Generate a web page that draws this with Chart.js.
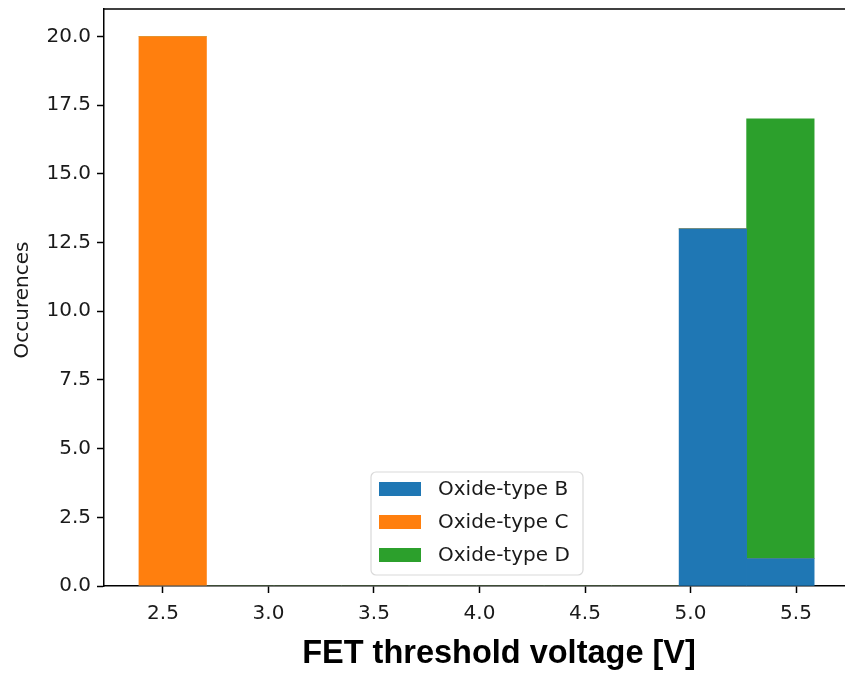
<!DOCTYPE html>
<html>
<head>
<meta charset="utf-8">
<script src="https://cdn.jsdelivr.net/npm/chart.js@4"></script>
<style>
  html, body { margin: 0; padding: 0; background: #fff; overflow: hidden; }
  canvas { display: block; }
</style>
</head>
<body>
<canvas id="histChart" width="845" height="673"></canvas>
<script>
// histogram bins (V) and counts per oxide type
const binEdges = [2.386, 2.706, 3.026, 3.346, 3.666, 3.986, 4.306, 4.626, 4.946, 5.266, 5.586];
const countsB = [0, 0, 0, 0, 0, 0, 0, 0, 13, 1];
const countsC = [20, 0, 0, 0, 0, 0, 0, 0, 0, 0];
const countsD = [0, 0, 0, 0, 0, 0, 0, 0, 0, 16];
const seriesNames = ["Oxide-type B", "Oxide-type C", "Oxide-type D"];
const seriesColors = ["#1f77b4", "#ff7f0e", "#2ca02c"];
const xLabel = "FET threshold voltage [V]";
const yLabel = "Occurences";

const binCenters = binEdges.slice(0, -1).map((e, i) => (e + binEdges[i + 1]) / 2);
const toPoints = (counts) => counts.map((c, i) => ({ x: binCenters[i], y: c }));

Chart.defaults.font.family = "'DejaVu Sans', sans-serif";
Chart.defaults.font.size = 20;
Chart.defaults.color = "#1a1a1a";

// top spine, axis titles and the in-plot legend
const decorations = {
	id: "decorations",
	afterDraw(chart) {
		const ctx = chart.ctx;
		const area = chart.chartArea;
		ctx.save();
		ctx.strokeStyle = "#000";
		ctx.lineWidth = 1.5;
		ctx.beginPath();
		ctx.moveTo(area.left, area.top);
		ctx.lineTo(area.right, area.top);
		ctx.stroke();

		ctx.fillStyle = "#000";
		ctx.font = "bold 32.5px 'Liberation Sans', Arial, sans-serif";
		ctx.textAlign = "center";
		ctx.textBaseline = "alphabetic";
		ctx.fillText(xLabel, 499, 663);

		ctx.fillStyle = "#1a1a1a";
		ctx.font = "20px 'DejaVu Sans', sans-serif";
		ctx.translate(23, 300);
		ctx.rotate(-Math.PI / 2);
		ctx.textBaseline = "middle";
		ctx.fillText(yLabel, 0, 0);
		ctx.restore();

		// legend box
		ctx.save();
		const bx = 371, by = 472, bw = 212, bh = 103, r = 5;
		ctx.beginPath();
		ctx.roundRect(bx, by, bw, bh, r);
		ctx.fillStyle = "rgba(255,255,255,0.8)";
		ctx.fill();
		ctx.strokeStyle = "#d9d9d9";
		ctx.lineWidth = 1.2;
		ctx.stroke();
		ctx.font = "20px 'DejaVu Sans', sans-serif";
		ctx.textAlign = "left";
		ctx.textBaseline = "middle";
		chart.data.datasets.forEach((ds, i) => {
			const cy = 489 + i * 33;
			ctx.fillStyle = ds.backgroundColor;
			ctx.fillRect(379, cy - 7, 42, 14);
			ctx.fillStyle = "#1a1a1a";
			ctx.fillText(ds.label, 438, cy + 1);
		});
		ctx.restore();
	}
};

new Chart(document.getElementById("histChart"), {
	type: "bar",
	data: {
		datasets: [countsB, countsC, countsD].map((counts, i) => ({
			label: seriesNames[i],
			data: toPoints(counts),
			backgroundColor: seriesColors[i],
			borderWidth: 0,
			barPercentage: 1,
			categoryPercentage: 1,
		})),
	},
	options: {
		responsive: false,
		devicePixelRatio: 1,
		animation: false,
		layout: { padding: { top: 0, right: 0, left: 0, bottom: 0 } },
		plugins: { legend: { display: false }, tooltip: { enabled: false } },
		scales: {
			x: {
				type: "linear",
				stacked: true,
				offset: false,
				min: 2.2204,
				max: 5.7322,
				border: { display: true, color: "#000", width: 1.5 },
				grid: { offset: false, drawOnChartArea: false, drawTicks: true, tickLength: 7, tickColor: "#000", tickWidth: 1.5 },
				ticks: {
					stepSize: 0.5,
					includeBounds: false,
					padding: 9,
					maxRotation: 0,
					callback: (v) => v.toFixed(1),
				},
				afterFit: (scale) => {
					scale.height = 87;
					scale.paddingLeft = 0;
					scale.paddingRight = 0;
				},
			},
			y: {
				stacked: true,
				min: 0,
				max: 21,
				border: { display: true, color: "#000", width: 1.5 },
				grid: { drawOnChartArea: false, drawTicks: true, tickLength: 7, tickColor: "#000", tickWidth: 1.5 },
				ticks: {
					stepSize: 2.5,
					includeBounds: false,
					padding: 6,
					callback: (v) => v.toFixed(1),
				},
				afterFit: (scale) => {
					scale.width = 104;
					scale.paddingTop = 9;
					scale.paddingBottom = 0;
				},
			},
		},
	},
	plugins: [decorations],
});
</script>
</body>
</html>
